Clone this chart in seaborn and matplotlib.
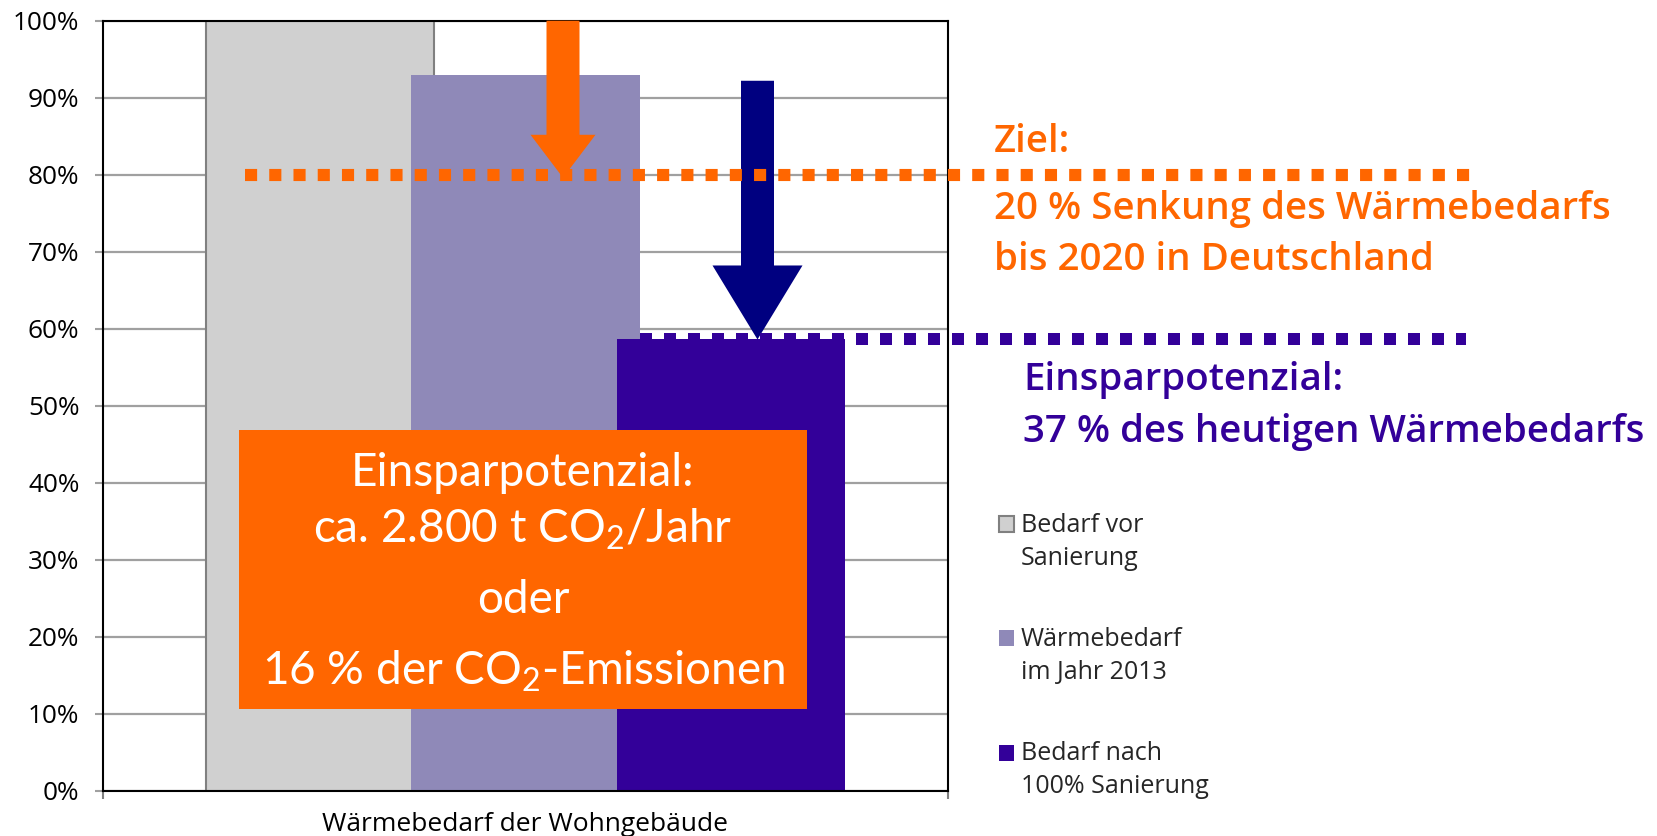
import matplotlib
matplotlib.use("Agg")
import matplotlib.pyplot as plt
import matplotlib.transforms as mtransforms
from matplotlib.patches import Rectangle
from matplotlib.legend_handler import HandlerPatch
import numpy as np
import pandas as pd
import seaborn as sns

# ---------------- data ----------------
series = ["Bedarf vor\nSanierung", "Wärmebedarf\nim Jahr 2013", "Bedarf nach\n100% Sanierung"]
values = [100.0, 93.0, 58.6]
bar_colors = ["#D0D0D0", "#8F89B8", "#330099"]
category = "Wärmebedarf der Wohngebäude"
ytick_values = [0, 10, 20, 30, 40, 50, 60, 70, 80, 90, 100]
ytick_labels = ["0%", "10%", "20%", "30%", "40%", "50%", "60%", "70%", "80%", "90%", "100%"]
target_level = 80.0
target_lines = ["Ziel:", "20 % Senkung des Wärmebedarfs", "bis 2020 in Deutschland"]
potential_lines = ["Einsparpotenzial:", "37 % des heutigen Wärmebedarfs"]
box_lines = ["Einsparpotenzial:",
             "ca. 2.800 t CO$_\\mathregular{2}$/Jahr",
             "oder",
             "16 % der CO$_\\mathregular{2}$-Emissionen"]

ORANGE = "#FF6600"
NAVY = "#000080"
PURPLE = "#330099"

W, H = 1657, 836
sns.set_theme(style="white")
plt.rcParams["font.family"] = ["Open Sans", "DejaVu Sans"]

fig = plt.figure(figsize=(W / 100, H / 100), dpi=100)
ax_l, ax_r, ax_t, ax_b = 103, 948, 20.7, 790.7
ax = fig.add_axes([ax_l / W, 1 - ax_b / H, (ax_r - ax_l) / W, (ax_b - ax_t) / H])

df = pd.DataFrame({"series": series, "value": values})
sns.barplot(data=df, x="series", y="value", hue="series", order=series, hue_order=series,
            palette=bar_colors, dodge=False, width=1.114, saturation=1, ax=ax,
            linewidth=0, zorder=2, legend=True)
for cont, col in zip(ax.containers, bar_colors):
    for p in cont:
        p.set_edgecolor("#808080" if col == "#D0D0D0" else col)
        p.set_linewidth(1.5 if col == "#D0D0D0" else 0)

x0, x1 = -1.056, 3.056
ax.set_xlim(x0, x1)
ax.set_ylim(0, 100)
ax.set_yticks(ytick_values, ytick_labels)
ax.set_xticks([x0, x1], ["", ""])
ax.set_xlabel("")
ax.set_ylabel("")
ax.yaxis.grid(True, color="#A0A0A0", lw=1.6, zorder=0)
ax.set_axisbelow(True)
for s in ax.spines.values():
    s.set_color("black")
    s.set_linewidth(1.5)
    s.set_visible(True)
ax.tick_params(axis="y", length=6, width=1.5, color="#A0A0A0", pad=11, labelsize=18.8,
               left=True, labelcolor="black")
ax.tick_params(axis="x", length=6, width=1.5, color="#808080", bottom=True)

fig.text((ax_l + ax_r) / 2 / W, 1 - 831 / H, category, ha="center", va="baseline",
         fontsize=19, color="black")

# ---------------- arrows ----------------
def px2x(px):
    return x0 + (px - ax_l) / (ax_r - ax_l) * (x1 - x0)

pt = 72 / 100
ax.annotate("", xy=(px2x(563), target_level - 0.4), xytext=(px2x(563), values[0]),
            arrowprops=dict(arrowstyle=f"simple,head_length={43*pt},head_width={65*pt},tail_width={33*pt}",
                            mutation_scale=1, color=ORANGE, lw=0, shrinkA=0, shrinkB=0),
            zorder=4, annotation_clip=False)
ax.annotate("", xy=(px2x(757.5), values[2]), xytext=(px2x(757.5), values[1] - 0.8),
            arrowprops=dict(arrowstyle=f"simple,head_length={74*pt},head_width={90*pt},tail_width={33*pt}",
                            mutation_scale=1, color=NAVY, lw=0, shrinkA=0, shrinkB=0),
            zorder=4, annotation_clip=False)

# ---------------- dotted lines ----------------
dot_lw = 12.12 * pt
ax.axhline(target_level, xmin=(245 - ax_l) / (ax_r - ax_l), xmax=(1470 - ax_l) / (ax_r - ax_l),
           color=ORANGE, lw=dot_lw, linestyle=(0, (1, 1)), dash_capstyle="butt",
           clip_on=False, zorder=5)
ax.axhline(values[2], xmin=(640 - ax_l) / (ax_r - ax_l), xmax=(1466 - ax_l) / (ax_r - ax_l),
           color=PURPLE, lw=12 * pt, linestyle=(0, (1, 1)), dash_capstyle="butt",
           clip_on=False, zorder=5)

# ---------------- orange box ----------------
blend = mtransforms.blended_transform_factory(ax.transAxes, ax.transData)
bx0 = (239 - ax_l) / (ax_r - ax_l)
bx1 = (807 - ax_l) / (ax_r - ax_l)
by0 = (ax_b - 709) / (ax_b - ax_t) * 100
by1 = (ax_b - 430) / (ax_b - ax_t) * 100
ax.add_patch(Rectangle((bx0, by0), bx1 - bx0, by1 - by0, transform=blend,
                       facecolor=ORANGE, edgecolor="none", zorder=6, clip_on=False))
for line, base in zip(box_lines, [486, 543, 613, 685]):
    fig.text(523 / W, 1 - base / H, line, ha="center", va="baseline", color="white",
             fontsize=33, family="Lato", zorder=7)

# ---------------- right annotations ----------------
for line, base in zip(target_lines, [152, 219, 270]):
    fig.text(994 / W, 1 - base / H, line, ha="left", va="baseline", color=ORANGE,
             fontsize=27.7, family="Open Sans", fontweight="semibold")
for line, base in zip(potential_lines, [390, 442]):
    fig.text(1023 / W, 1 - base / H, line, ha="left", va="baseline", color=PURPLE,
             fontsize=27.7, family="Open Sans", fontweight="semibold")

# ---------------- legend ----------------
LEG_FS = 18
shift = 18.5 * pt

def square(legend, orig_handle, xdescent, ydescent, width, height, fontsize):
    return Rectangle((-xdescent, -ydescent + shift), width, height)

sns.move_legend(ax, "upper left", bbox_to_anchor=(999 / W, 1 - 513 / H),
                bbox_transform=fig.transFigure, frameon=False, title=None,
                fontsize=LEG_FS, handlelength=0.6, handleheight=0.6,
                handletextpad=0.28, labelspacing=2.25, borderpad=0, borderaxespad=0,
                handler_map={Rectangle: HandlerPatch(patch_func=square)})
leg = ax.get_legend()
for t in leg.get_texts():
    t.set_linespacing(1.42)
for h, col in zip(leg.legend_handles, bar_colors):
    h.set_facecolor(col)
    h.set_edgecolor("#808080" if col == "#D0D0D0" else col)
    h.set_linewidth(1.5 if col == "#D0D0D0" else 0)

fig.savefig("out.png", dpi=100)
